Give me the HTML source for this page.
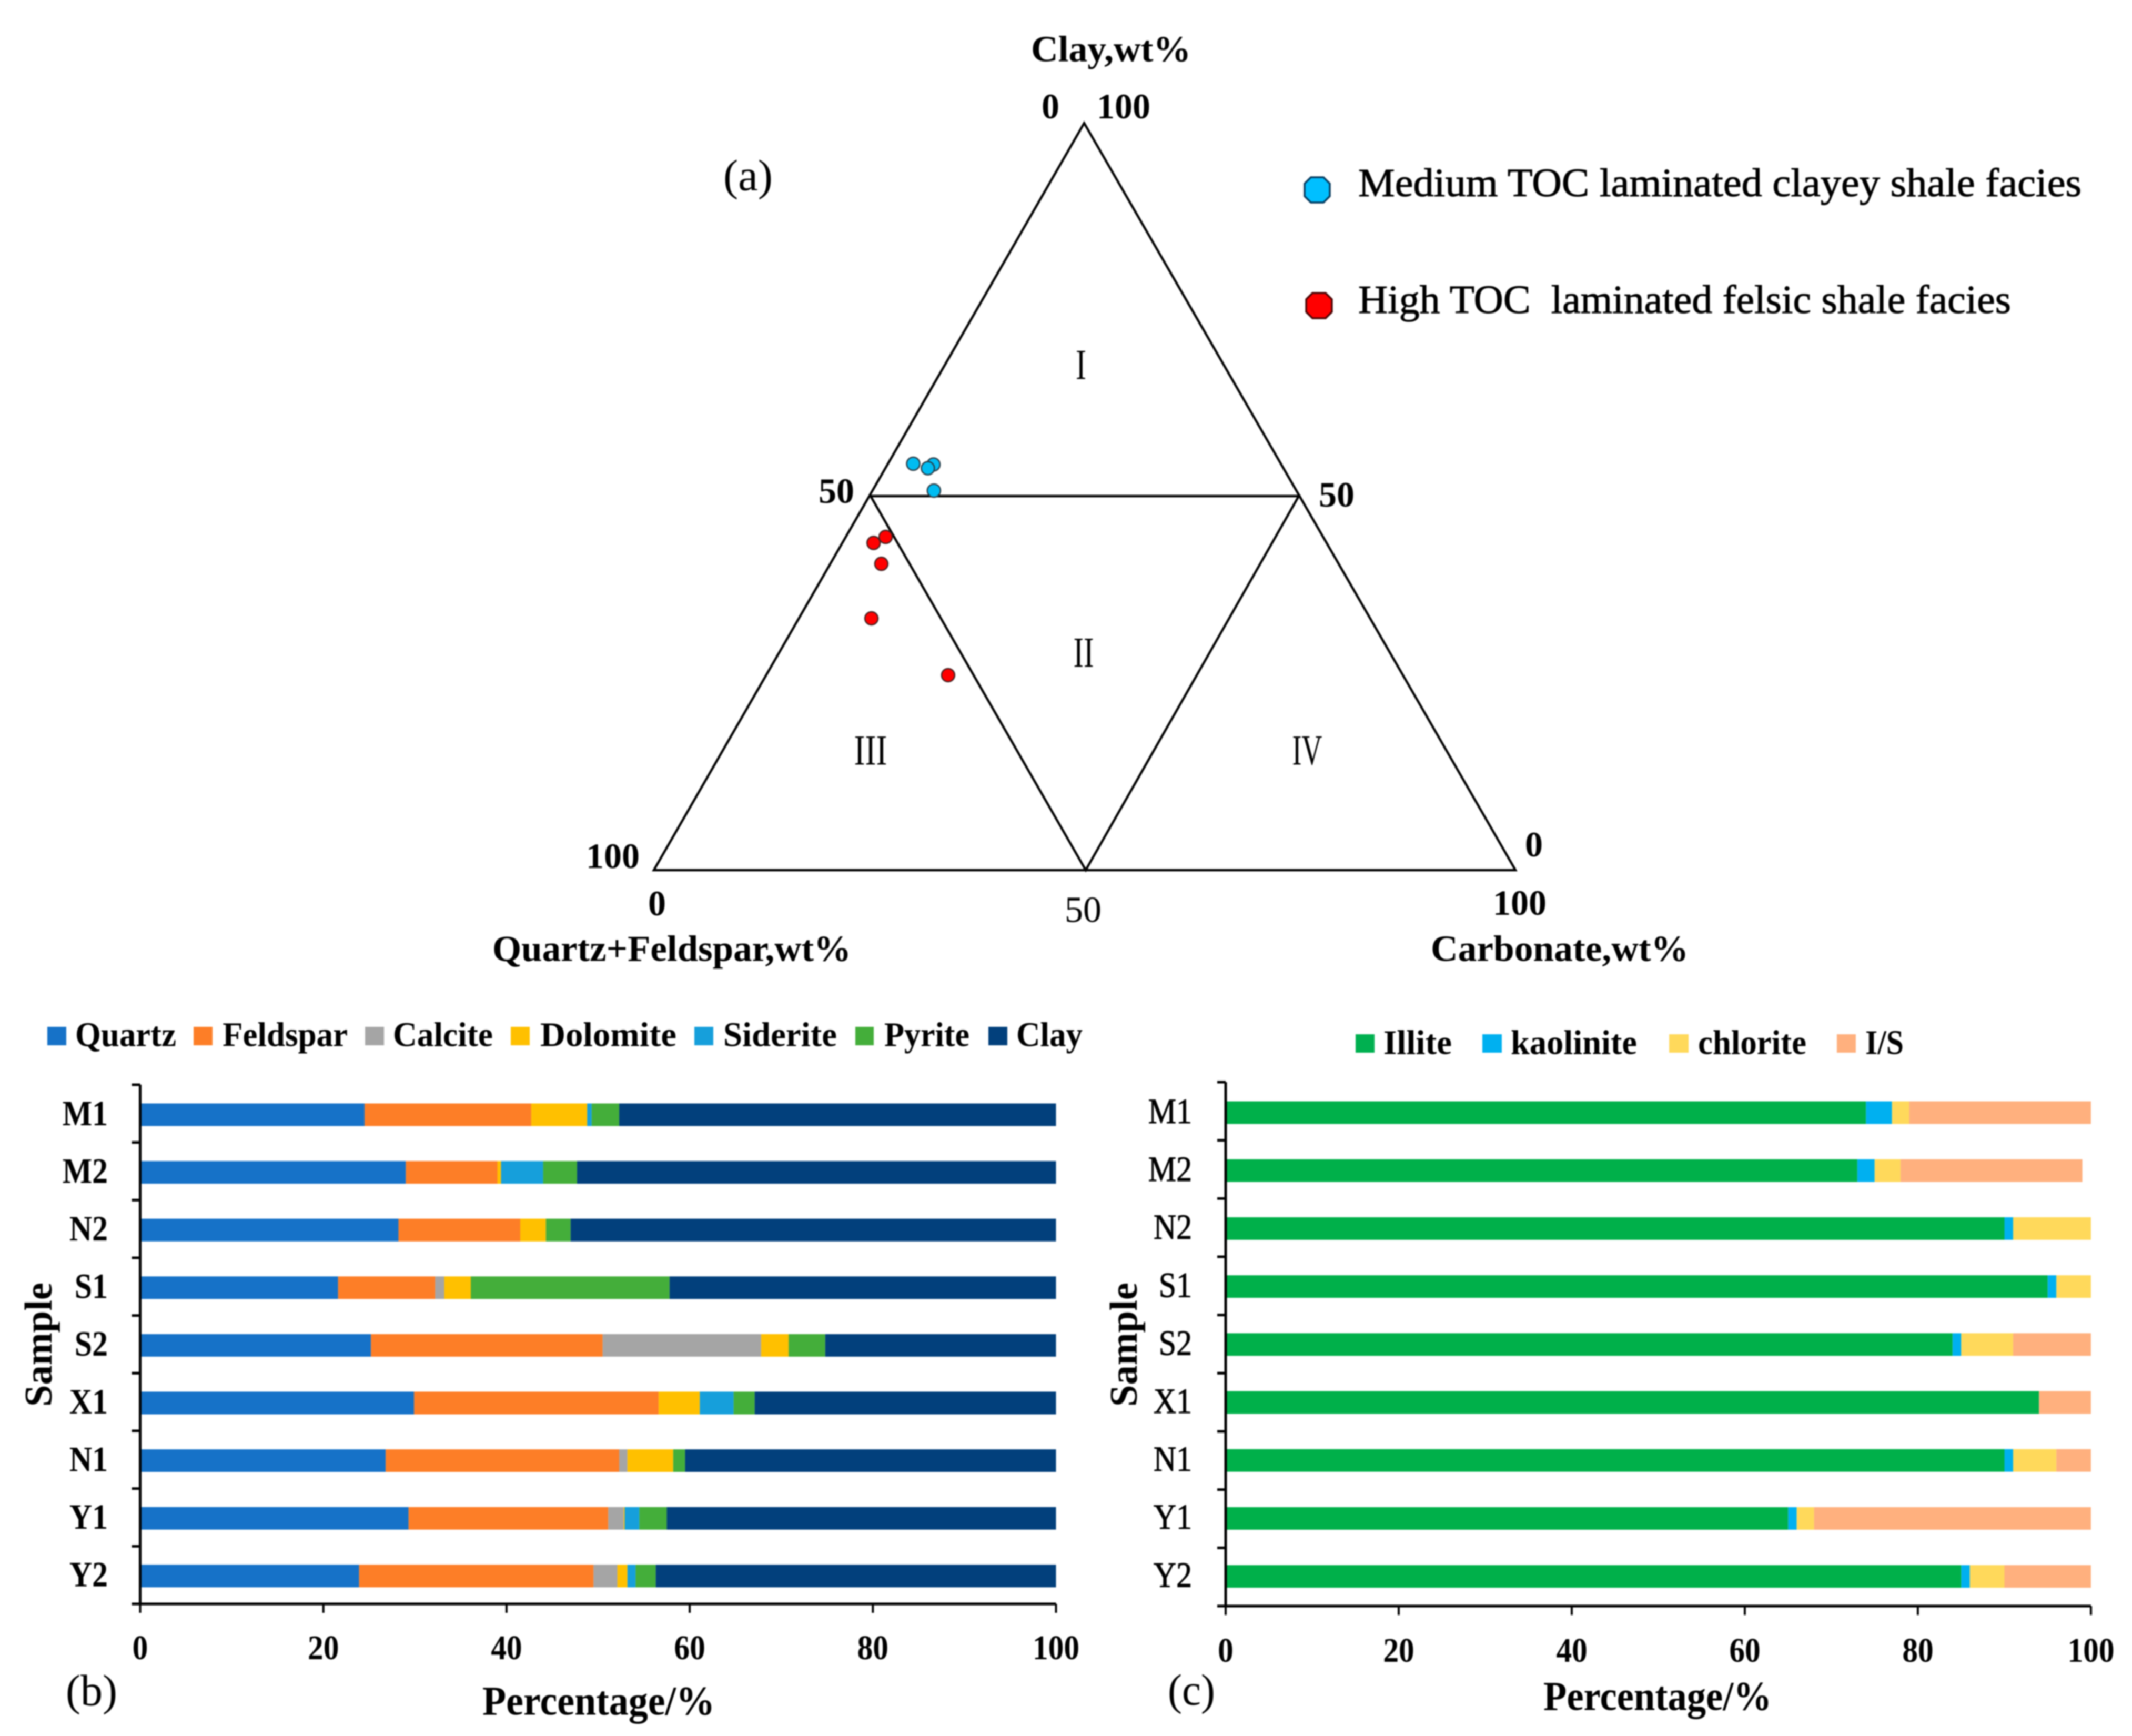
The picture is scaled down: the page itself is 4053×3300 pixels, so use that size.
<!DOCTYPE html>
<html lang="en">
<head>
<meta charset="utf-8">
<title>Shale mineral composition charts</title>
<style>
html,body{margin:0;padding:0;background:#fff;width:4053px;height:3300px;overflow:hidden}
svg{display:block;font-family:"Liberation Serif","Times New Roman",serif;color:#000;filter:blur(1.2px)}
text{fill:#000;white-space:pre}
.c{dominant-baseline:central}
.b{font-weight:700}
.s{stroke:#000;stroke-width:1}
</style>
</head>
<body>
<svg id="figure" xmlns="http://www.w3.org/2000/svg" width="4053" height="3300" viewBox="0 0 4053 3300">
<rect width="4053" height="3300" fill="#fff"/>

<g id="ternary">
  <g fill="none" stroke="#000" stroke-width="4.4" stroke-linejoin="miter">
    <path d="M1243 1654L2061 234L2881 1654Z"/>
    <path d="M1655 943H2469L2064 1654L1655 943"/>
  </g>
  <text class="c b" x="1960" y="94" font-size="70" textLength="304" lengthAdjust="spacingAndGlyphs">Clay,wt%</text>
  <text class="c b" x="1980" y="202" font-size="68">0</text>
  <text class="c b" x="2085" y="202" font-size="68">100</text>
  <text class="c" x="1375" y="334" font-size="84" textLength="94" lengthAdjust="spacingAndGlyphs">(a)</text>
  <text class="c b" x="1556" y="933" font-size="68">50</text>
  <text class="c b" x="2507" y="940" font-size="68">50</text>
  <text class="c b" x="1114" y="1627" font-size="68">100</text>
  <text class="c b" x="2899" y="1605" font-size="68">0</text>
  <text class="c b" x="1232" y="1717" font-size="68">0</text>
  <text class="c" x="2024" y="1730" font-size="70">50</text>
  <text class="c b" x="2838" y="1716" font-size="68">100</text>
  <text class="c b" x="936" y="1804" font-size="70" textLength="682" lengthAdjust="spacingAndGlyphs">Quartz+Feldspar,wt%</text>
  <text class="c b" x="2720" y="1804" font-size="70" textLength="490" lengthAdjust="spacingAndGlyphs">Carbonate,wt%</text>
  <text class="c" x="2055" y="693" font-size="82" text-anchor="middle" textLength="20" lengthAdjust="spacingAndGlyphs">I</text>
  <text class="c" x="2060" y="1240" font-size="82" text-anchor="middle" textLength="39" lengthAdjust="spacingAndGlyphs">II</text>
  <text class="c" x="1655" y="1426" font-size="82" text-anchor="middle" textLength="63" lengthAdjust="spacingAndGlyphs">III</text>
  <text class="c" x="2485" y="1426" font-size="82" text-anchor="middle" textLength="57" lengthAdjust="spacingAndGlyphs">IV</text>
  <g id="ternary-points"></g>
  <g>
    <polygon points="2492,337 2516,337 2528,349 2528,373 2516,385 2492,385 2480,373 2480,349" fill="#00bfff" stroke="#063a5e" stroke-width="3.5"/>
    <text class="s" x="2582" y="373" font-size="76" textLength="1375" lengthAdjust="spacingAndGlyphs">Medium TOC laminated clayey shale facies</text>
    <polygon points="2495,557 2520,557 2532,569 2532,593 2520,605 2495,605 2483,593 2483,569" fill="#ff0000" stroke="#4a0505" stroke-width="3.5"/>
    <text class="s" x="2582" y="595" font-size="76" textLength="1241" lengthAdjust="spacingAndGlyphs">High TOC  laminated felsic shale facies</text>
  </g>
</g>

<g id="chart-b">
  <g>
    <rect x="90" y="1952" width="36" height="35" fill="#1672c8"/>
    <text class="c b" x="143" y="1967" font-size="66" textLength="192" lengthAdjust="spacingAndGlyphs">Quartz</text>
    <rect x="368" y="1952" width="36" height="35" fill="#fd7e27"/>
    <text class="c b" x="423" y="1967" font-size="66" textLength="238" lengthAdjust="spacingAndGlyphs">Feldspar</text>
    <rect x="694" y="1952" width="36" height="35" fill="#a5a5a5"/>
    <text class="c b" x="747" y="1967" font-size="66" textLength="190" lengthAdjust="spacingAndGlyphs">Calcite</text>
    <rect x="971" y="1952" width="36" height="35" fill="#ffc000"/>
    <text class="c b" x="1027" y="1967" font-size="66" textLength="259" lengthAdjust="spacingAndGlyphs">Dolomite</text>
    <rect x="1320" y="1952" width="36" height="35" fill="#169fdb"/>
    <text class="c b" x="1375" y="1967" font-size="66" textLength="216" lengthAdjust="spacingAndGlyphs">Siderite</text>
    <rect x="1626" y="1952" width="35" height="35" fill="#44ae3a"/>
    <text class="c b" x="1681" y="1967" font-size="66" textLength="162" lengthAdjust="spacingAndGlyphs">Pyrite</text>
    <rect x="1879" y="1952" width="36" height="35" fill="#02407c"/>
    <text class="c b" x="1932" y="1967" font-size="66" textLength="126" lengthAdjust="spacingAndGlyphs">Clay</text>
  </g>
  <text class="c b" transform="translate(74,2556) rotate(-90)" text-anchor="middle" font-size="74" textLength="236" lengthAdjust="spacingAndGlyphs">Sample</text>
  <text class="c b" x="917" y="3233" font-size="78" textLength="442" lengthAdjust="spacingAndGlyphs">Percentage/%</text>
  <text class="c" x="125" y="3214" font-size="84" textLength="98" lengthAdjust="spacingAndGlyphs">(b)</text>
</g>

<g id="chart-c">
  <g>
    <rect x="2577" y="1966" width="36" height="35" fill="#00b050"/>
    <text class="c b" x="2630" y="1982" font-size="66" textLength="130" lengthAdjust="spacingAndGlyphs">Illite</text>
    <rect x="2818" y="1966" width="37" height="35" fill="#00b0f0"/>
    <text class="c b" x="2872" y="1982" font-size="66" textLength="240" lengthAdjust="spacingAndGlyphs">kaolinite</text>
    <rect x="3173" y="1966" width="37" height="35" fill="#ffd95b"/>
    <text class="c b" x="3228" y="1982" font-size="66" textLength="206" lengthAdjust="spacingAndGlyphs">chlorite</text>
    <rect x="3492" y="1966" width="36" height="35" fill="#ffb07e"/>
    <text class="c b" x="3546" y="1982" font-size="66" textLength="73" lengthAdjust="spacingAndGlyphs">I/S</text>
  </g>
  <text class="c b" transform="translate(2137,2556) rotate(-90)" text-anchor="middle" font-size="74" textLength="236" lengthAdjust="spacingAndGlyphs">Sample</text>
  <text class="c b" x="2934" y="3224" font-size="78" textLength="434" lengthAdjust="spacingAndGlyphs">Percentage/%</text>
  <text class="c" x="2220" y="3213" font-size="84" textLength="90" lengthAdjust="spacingAndGlyphs">(c)</text>
</g>
</svg>

<script>
// Ternary data (wt%)
const mediumTocClay = [54.4, 54.3, 53.8, 50.8];
const mediumTocCarbonate = [2.9, 5.3, 4.9, 7.1];
const highTocClay = [44.6, 43.8, 41.0, 33.7, 26.1];
const highTocCarbonate = [4.6, 3.6, 5.9, 8.4, 21.1];

// Panel (b) data
const bulkSamples = ['M1', 'M2', 'N2', 'S1', 'S2', 'X1', 'N1', 'Y1', 'Y2'];
const quartz   = [24.5, 29.0, 28.2, 21.6, 25.2, 29.9, 26.8, 29.3, 23.9];
const feldspar = [18.2, 10.0, 13.3, 10.6, 25.3, 26.7, 25.5, 21.8, 25.6];
const calcite  = [0, 0, 0, 1.0, 17.3, 0, 0.9, 1.7, 2.6];
const dolomite = [6.1, 0.4, 2.8, 2.9, 3.0, 4.5, 5.0, 0.1, 1.1];
const siderite = [0.5, 4.6, 0, 0, 0, 3.7, 0, 1.6, 0.9];
const pyrite   = [3.0, 3.7, 2.7, 21.7, 4.0, 2.3, 1.3, 3.0, 2.2];
const clay     = [47.7, 52.3, 53.0, 42.2, 25.2, 32.9, 40.5, 42.5, 43.7];

// Panel (c) data
const claySamples = ['M1', 'M2', 'N2', 'S1', 'S2', 'X1', 'N1', 'Y1', 'Y2'];
const illite    = [74, 73, 90, 95, 84, 94, 90, 65, 85];
const kaolinite = [3, 2, 1, 1, 1, 0, 1, 1, 1];
const chlorite  = [2, 3, 9, 4, 6, 0, 5, 2, 4];
const mixedLayer = [21, 21, 0, 0, 9, 6, 4, 32, 10];

// Shared axis tick labels
const percentTicks = [0, 20, 40, 60, 80, 100];

const NS = 'http://www.w3.org/2000/svg';
function make(tag, parent, attrs, txt) {
  const el = document.createElementNS(NS, tag);
  for (const k in attrs) el.setAttribute(k, attrs[k]);
  if (txt !== undefined) el.textContent = txt;
  parent.appendChild(el);
  return el;
}

// Ternary axis functions
const triLeft = 1243, triRight = 2881, triBase = 1654, triApex = 234;
function ternaryX(clayPct, carbPct) { return triLeft + (carbPct + clayPct / 2) / 100 * (triRight - triLeft); }
function ternaryY(clayPct) { return triBase - clayPct / 100 * (triBase - triApex); }

const pointsLayer = document.getElementById('ternary-points');
mediumTocClay.forEach(function (v, i) {
  const dot = make('circle', pointsLayer, {cx: ternaryX(v, mediumTocCarbonate[i]), cy: ternaryY(v), r: 12.5, fill: '#00bcf2', stroke: '#2b3a44', 'stroke-width': 2.5});
  
  
});
highTocClay.forEach(function (v, i) {
  const dot = make('circle', pointsLayer, {cx: ternaryX(v, highTocCarbonate[i]), cy: ternaryY(v), r: 12.5, fill: '#ff0000', stroke: '#442222', 'stroke-width': 2.5});
  
  
});

function drawStacked(parent, cfg) {
  const xScale = function (v) { return cfg.x0 + v / 100 * (cfg.x1 - cfg.x0); };
  const yCenter = function (i) { return cfg.firstCenter + i * cfg.step; };
  const yTick = function (i) { return cfg.top + i * (cfg.bottom - cfg.top) / cfg.samples.length; };

  cfg.samples.forEach(function (name, i) {
    let acc = 0;
    cfg.series.forEach(function (s) {
      const v = s.values[i];
      if (v > 0) {
        const seg = make('rect', parent, {x: xScale(acc), y: yCenter(i) - cfg.barH / 2, width: xScale(acc + v) - xScale(acc), height: cfg.barH, fill: s.color});
        
        
      }
      acc += v;
    });
    const lab = make('text', parent, {class: 'c ' + cfg.catClass, transform: 'translate(' + cfg.catRight + ',' + (yCenter(i) - 3) + ') scale(0.88,1)', 'font-size': 68, 'text-anchor': 'end'}, name);
    
    
  });

  const yAxis = make('line', parent, {x1: cfg.x0, x2: cfg.x0, y1: cfg.top, y2: cfg.bottom + 2, stroke: '#000', 'stroke-width': 5});
  
  
  const xAxis = make('line', parent, {x1: cfg.x0 - 16, x2: cfg.x1, y1: cfg.bottom, y2: cfg.bottom, stroke: '#000', 'stroke-width': 5});
  
  

  for (let i = 0; i < cfg.samples.length; i++) {
    const t = make('line', parent, {x1: cfg.x0 - 16, x2: cfg.x0, y1: yTick(i), y2: yTick(i), stroke: '#000', 'stroke-width': 5});
    
    
  }
  percentTicks.forEach(function (v) {
    const t = make('line', parent, {x1: xScale(v), x2: xScale(v), y1: cfg.bottom, y2: cfg.bottom + 17, stroke: '#000', 'stroke-width': 4});
    
    
    const lab = make('text', parent, {class: 'c b', transform: 'translate(' + xScale(v) + ',' + cfg.tickY + ') scale(0.9,1)', 'font-size': 66, 'text-anchor': 'middle'}, String(v));
    
    
  });
}

drawStacked(document.getElementById('chart-b'), {
  x0: 266.5, x1: 2007.5, top: 2062, bottom: 3049, firstCenter: 2119, step: 109.6, barH: 43,
  catRight: 205, catClass: 'b', tickY: 3132, samples: bulkSamples,
  series: [
    {name: 'quartz', values: quartz, color: '#1672c8'},
    {name: 'feldspar', values: feldspar, color: '#fd7e27'},
    {name: 'calcite', values: calcite, color: '#a5a5a5'},
    {name: 'dolomite', values: dolomite, color: '#ffc000'},
    {name: 'siderite', values: siderite, color: '#169fdb'},
    {name: 'pyrite', values: pyrite, color: '#44ae3a'},
    {name: 'clay', values: clay, color: '#02407c'}
  ]
});

drawStacked(document.getElementById('chart-c'), {
  x0: 2330, x1: 3975, top: 2057, bottom: 3053, firstCenter: 2115, step: 110.2, barH: 43,
  catRight: 2266, catClass: 's', tickY: 3137, samples: claySamples,
  series: [
    {name: 'illite', values: illite, color: '#00b04a'},
    {name: 'kaolinite', values: kaolinite, color: '#00b0f0'},
    {name: 'chlorite', values: chlorite, color: '#ffd95b'},
    {name: 'is', values: mixedLayer, color: '#ffb07e'}
  ]
});
</script>
</body>
</html>
